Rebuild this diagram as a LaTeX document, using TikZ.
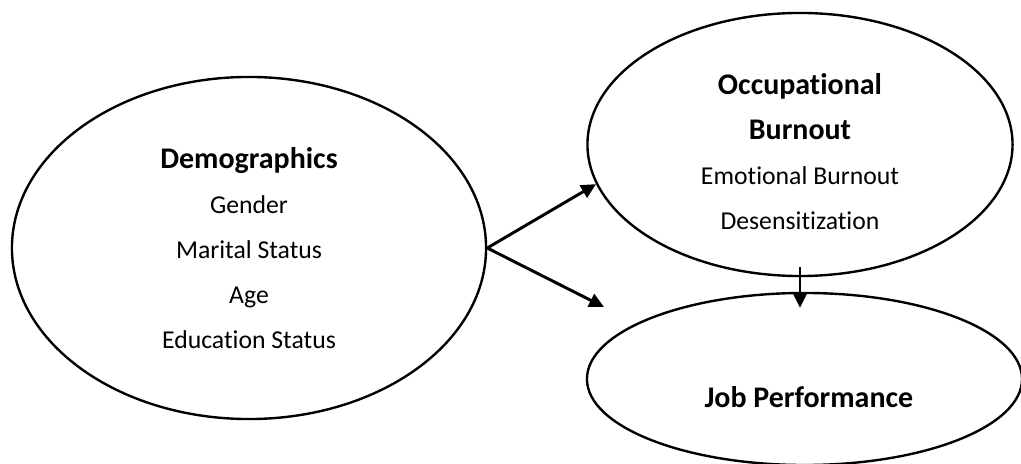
\documentclass[tikz,border=0pt]{standalone}
\usepackage{fontspec}
\setmainfont{Carlito}[Ligatures=NoCommon]
\usetikzlibrary{shapes.geometric,arrows.meta,positioning}

\begin{document}
\begin{tikzpicture}[x=0.025cm,y=-0.025cm,
    oval/.style={draw,ellipse,line width=1.7pt,inner sep=0pt},
    oval text/.style={align=center,font=\fontsize{18.3}{32}\selectfont},
    head/.style={font=\fontsize{21.3}{32}\selectfont\bfseries},
    link/.style={-{Triangle[length=10.5pt,width=10pt]},line width=2.1pt}]

    \useasboundingbox (0,0) rectangle (1021,464);

    % the three ovals
    \node[oval,minimum width=11.85cm,minimum height=8.55cm] (demo) at (249,248) {};
    \node[oval,minimum width=10.625cm,minimum height=6.575cm] (ob) at (800,144.5) {};
    \node[oval,minimum width=10.875cm,minimum height=4.3cm] (jp) at (804.5,379) {};

    % their texts
    \node[oval text] (demo-text) at (demo.center)
        {{\bfseries\fontsize{21.3}{32}\selectfont Demographics}\\Gender\\Marital Status\\Age\\Education Status};
    \node[oval text] (ob-text) at (ob.center) [yshift=-0.175cm]
        {{\bfseries\fontsize{21.3}{32}\selectfont Occupational}\\{\bfseries\fontsize{21.3}{32}\selectfont Burnout}\\Emotional Burnout\\Desensitization};
    \node[head] (jp-text) at (jp.center) [xshift=0.11cm, yshift=-0.45cm] {Job Performance};

    % links
    \coordinate (jp-in) at (604,307);
    \draw[link] (demo.east) -- (ob.191);
    \draw[link] (demo.east) -- (jp-in);
    \draw[link,line width=1.6pt,shorten <=-0.25cm,shorten >=-0.4cm] (ob.south) -- (ob.south |- jp.north);

\end{tikzpicture}
\end{document}
